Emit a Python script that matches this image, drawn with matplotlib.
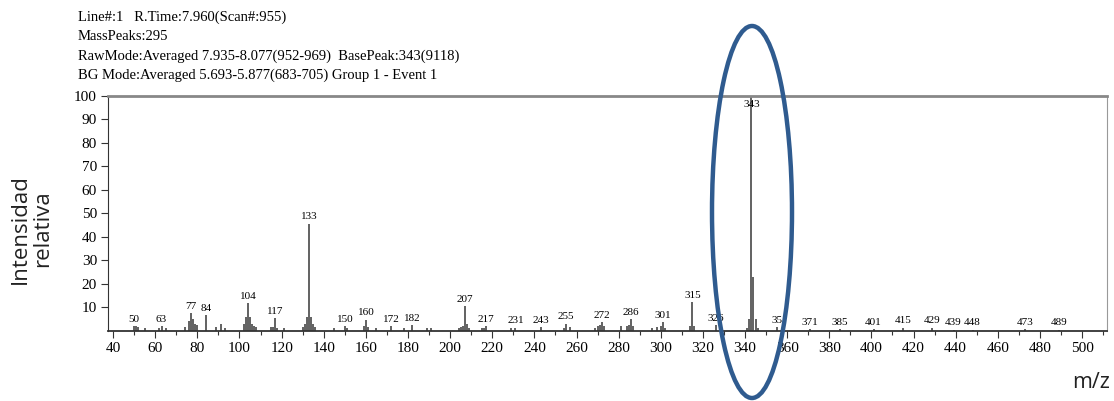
import matplotlib
matplotlib.use('Agg')
import matplotlib.pyplot as plt
from matplotlib.patches import Ellipse

# labelled peaks (m/z, relative intensity)
label_mz = [50, 63, 77, 84, 104, 117, 133, 150, 160, 172, 182, 207, 217, 231, 243,
            255, 272, 286, 301, 315, 326, 343, 355, 371, 385, 401, 415, 429, 439,
            448, 473, 489]
label_int = [1.9, 1.9, 7.4, 6.6, 11.7, 5.3, 45.5, 1.9, 4.5, 1.9, 2.3, 10.4, 1.9, 1.1,
             1.5, 2.8, 3.6, 4.9, 3.6, 12.1, 2.3, 100.0, 1.5, 0.6, 0.6, 0.6, 1.1, 1.1,
             0.3, 0.3, 0.6, 0.3]
# the 355 tag is cut short in the printout
label_text = ['50', '63', '77', '84', '104', '117', '133', '150', '160', '172', '182',
              '207', '217', '231', '243', '255', '272', '286', '301', '315', '326',
              '343', '35', '371', '385', '401', '415', '429', '439', '448', '473', '489']

# smaller unlabelled peaks
minor_mz = [51, 52, 55, 62, 65, 74, 76, 78, 79, 80, 89, 91, 93, 102, 103, 105, 106,
            107, 108, 115, 116, 118, 121, 130, 131, 132, 134, 135, 136, 145, 151,
            159, 161, 165, 178, 189, 191, 204, 205, 206, 208, 209, 215, 216, 229,
            254, 257, 269, 270, 271, 273, 281, 284, 285, 287, 296, 298, 300, 302,
            314, 316, 341, 342, 344, 345, 346]
minor_int = [2.0, 1.5, 1.0, 1.0, 1.0, 1.5, 4.0, 5.0, 3.0, 2.5, 1.5, 3.0, 1.0, 3.0, 6.0,
             6.0, 3.0, 2.0, 1.5, 1.5, 1.5, 1.0, 1.0, 1.5, 3.0, 6.0, 6.0, 3.0, 1.5, 1.0,
             1.0, 2.0, 1.5, 1.0, 1.0, 1.0, 1.0, 1.0, 1.5, 2.0, 3.0, 1.0, 1.0, 1.0, 1.0,
             1.0, 1.5, 1.0, 2.0, 2.5, 2.0, 2.0, 2.0, 2.5, 2.0, 1.0, 1.5, 2.0, 1.0,
             2.0, 2.0, 1.0, 5.0, 23.0, 5.0, 1.0]

header = ['Line#:1   R.Time:7.960(Scan#:955)',
          'MassPeaks:295',
          'RawMode:Averaged 7.935-8.077(952-969)  BasePeak:343(9118)',
          'BG Mode:Averaged 5.693-5.877(683-705) Group 1 - Event 1']

serif = 'Liberation Serif'
sans = 'Open Sans'

fig = plt.figure(figsize=(11.14, 4.01), dpi=100)
ax = fig.add_axes([0.097, 0.175, 0.897, 0.586])

ax.vlines(minor_mz, 0, minor_int, color='#555555', linewidth=1.3)
ax.vlines(label_mz, 0, label_int, color='#555555', linewidth=1.3)

for m, h, t in zip(label_mz, label_int, label_text):
    if h > 95:
        ax.annotate(t, (m, 100), xytext=(0, -3), textcoords='offset points',
                    ha='center', va='top', fontsize=8, family=serif)
    else:
        ax.annotate(t, (m, h), xytext=(0, 2), textcoords='offset points',
                    ha='center', va='bottom', fontsize=8, family=serif)

ax.set_xlim(37.6, 512)
ax.set_ylim(0, 100)
ax.set_xticks(range(40, 501, 20))
ax.set_xticks(range(40, 511, 10), minor=True)
ax.set_yticks(range(10, 101, 10))
ax.tick_params(axis='both', direction='out', length=5, width=0.8, labelsize=11,
               color='#333333', pad=3)
ax.tick_params(axis='x', which='minor', direction='out', length=3, width=0.8,
               color='#333333')
for lab in ax.get_xticklabels() + ax.get_yticklabels():
    lab.set_family(serif)

ax.spines['top'].set_color('#888888')
ax.spines['top'].set_linewidth(2)
ax.spines['right'].set_color('#999999')
ax.spines['right'].set_linewidth(0.8)
ax.spines['left'].set_color('#333333')
ax.spines['bottom'].set_color('#333333')
ax.spines['bottom'].set_linewidth(1.3)

for i, line in enumerate(header):
    fig.text(0.070, 1 - (17 + 19.5 * i) / 401, line, fontsize=10.5, family=serif,
             va='center', ha='left')

fig.text(0.028, 0.43, 'Intensidad\nrelativa', rotation=90, ha='center',
         va='center', fontsize=16, family=sans, linespacing=1.1, color='#222222')
fig.text(0.979, 0.045, 'm/z', ha='center', va='center', fontsize=15.5,
         family=sans, color='#222222')

ring = Ellipse((752 / 1114, 1 - 212 / 401), 80 / 1114, 372 / 401,
               transform=fig.transFigure, fill=False, edgecolor='#2f5b8f',
               linewidth=3.2, clip_on=False)
fig.patches.append(ring)

fig.savefig('out.png', dpi=100)
